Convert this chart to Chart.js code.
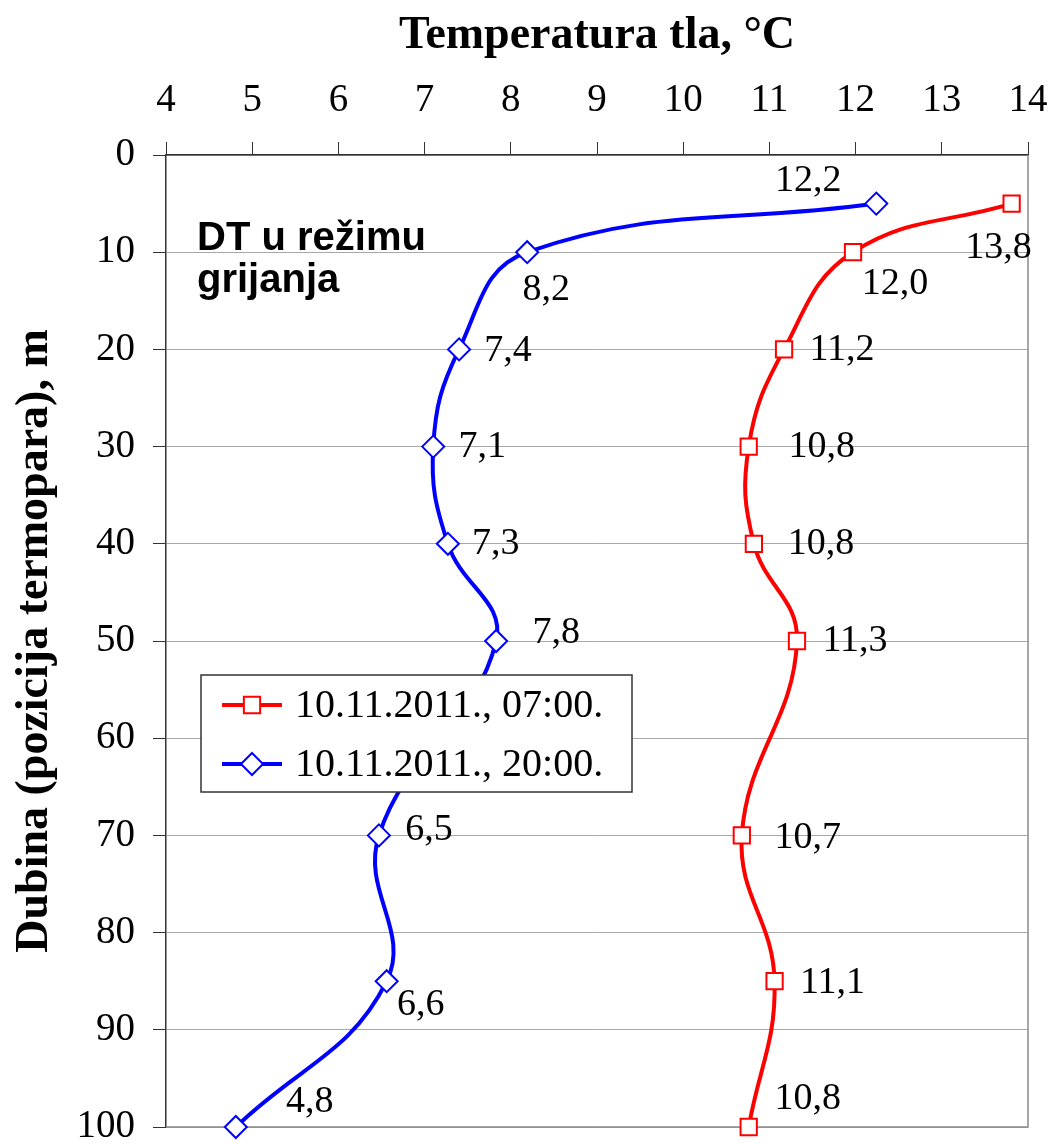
<!DOCTYPE html>
<html>
<head>
<meta charset="utf-8">
<script src="https://cdn.jsdelivr.net/npm/chart.js@4.4.0/dist/chart.umd.min.js"></script>
<style>
  html, body { margin: 0; padding: 0; background: #fff; }
  #wrap { position: relative; width: 1054px; height: 1143px; }
</style>
</head>
<body>
<div id="wrap"><canvas id="tempChart"></canvas></div>
<script>
// depth of the thermocouples, m
const depths = [5, 10, 20, 30, 40, 50, 70, 85, 100];
// ground temperature, °C
const temps0700 = [13.81, 11.97, 11.17, 10.76, 10.82, 11.32, 10.68, 11.06, 10.76];
const temps2000 = [12.24, 8.19, 7.40, 7.10, 7.27, 7.83, 6.47, 6.56, 4.81];
const seriesNames = ['10.11.2011., 07:00.', '10.11.2011., 20:00.'];
const tempTicks = [4, 5, 6, 7, 8, 9, 10, 11, 12, 13, 14];
const depthTicks = [0, 10, 20, 30, 40, 50, 60, 70, 80, 90, 100];

const serif = "'Liberation Serif', 'Times New Roman', serif";

const toPoints = (temps) => temps.map((t, i) => ({ x: t, y: depths[i] }));

// value labels, drawn next to each marker
const valueLabels = {
  id: 'valueLabels',
  afterDatasetsDraw(chart) {
    const ctx = chart.ctx;
    ctx.save();
    ctx.font = '38px ' + serif;
    ctx.fillStyle = '#000';
    ctx.textAlign = 'center';
    ctx.textBaseline = 'middle';
    chart.data.datasets.forEach((ds, i) => {
      const meta = chart.getDatasetMeta(i);
      meta.data.forEach((pt, j) => {
        const off = ds.labelOffsets[j];
        const txt = ds.data[j].x.toFixed(1).replace('.', ',');
        ctx.fillText(txt, pt.x + off[0], pt.y + off[1]);
      });
    });
    ctx.restore();
  }
};

// grey frame on the right and bottom of the plot area
const plotFrame = {
  id: 'plotFrame',
  beforeDatasetsDraw(chart) {
    const { ctx, chartArea: a } = chart;
    ctx.save();
    ctx.strokeStyle = '#8a8a8a';
    ctx.lineWidth = 1.5;
    ctx.beginPath();
    ctx.moveTo(a.right, a.top);
    ctx.lineTo(a.right, a.bottom);
    ctx.lineTo(a.left, a.bottom);
    ctx.stroke();
    ctx.restore();
  }
};

// legend box inside the plot + the note text
const boxLegend = {
  id: 'boxLegend',
  afterDraw(chart) {
    const { ctx, chartArea: a } = chart;
    ctx.save();
    ctx.font = 'bold 40px "Liberation Sans", Arial, sans-serif';
    ctx.fillStyle = '#000';
    ctx.textAlign = 'left';
    ctx.textBaseline = 'alphabetic';
    ctx.fillText('DT u režimu', a.left + 31, a.top + 95);
    ctx.fillText('grijanja', a.left + 31, a.top + 137);

    const x = a.left + 35, y = a.top + 520, w = 431, h = 117;
    ctx.fillStyle = '#fff';
    ctx.fillRect(x, y, w, h);
    ctx.strokeStyle = '#333';
    ctx.lineWidth = 1.5;
    ctx.strokeRect(x, y, w, h);
    chart.data.datasets.forEach((ds, i) => {
      const cy = y + 30 + i * 59;
      ctx.strokeStyle = ds.borderColor;
      ctx.lineWidth = 4;
      ctx.beginPath();
      ctx.moveTo(x + 21, cy);
      ctx.lineTo(x + 81, cy);
      ctx.stroke();
      ctx.fillStyle = '#fff';
      ctx.lineWidth = ds.pointBorderWidth;
      Chart.helpers.drawPoint(ctx, {
        pointStyle: ds.pointStyle, radius: ds.pointRadius,
        borderWidth: ds.pointBorderWidth, rotation: 0
      }, x + 51, cy);
      ctx.fillStyle = '#000';
      ctx.font = '40px ' + serif;
      ctx.textBaseline = 'middle';
      ctx.fillText(ds.label, x + 94, cy + 1);
    });
    ctx.restore();
  }
};

new Chart(document.getElementById('tempChart'), {
  type: 'scatter',
  data: {
    datasets: [
      {
        label: seriesNames[0],
        data: toPoints(temps0700),
        borderColor: '#ff0000',
        backgroundColor: '#ffffff',
        borderWidth: 4,
        pointStyle: 'rect',
        pointRadius: 11.5,
        pointBorderWidth: 2,
        pointBackgroundColor: '#ffffff',
        pointBorderColor: '#ff0000',
        labelOffsets: [[-13, 44], [42, 32], [58, 1], [73, 0], [67, 0], [58, 0], [66, 3], [58, 2], [59, -28]]
      },
      {
        label: seriesNames[1],
        data: toPoints(temps2000),
        borderColor: '#0000ff',
        backgroundColor: '#ffffff',
        borderWidth: 4,
        pointStyle: 'rectRot',
        pointRadius: 11,
        pointBorderWidth: 2,
        pointBackgroundColor: '#ffffff',
        pointBorderColor: '#0000ff',
        labelOffsets: [[-68, -23], [19, 38], [49, 2], [49, 0], [48, 0], [60, -8], [50, -5], [34, 24], [74, -25]]
      }
    ]
  },
  options: {
    responsive: true,
    maintainAspectRatio: false,
    animation: false,
    showLine: true,
    clip: false,
    elements: {
      line: { tension: 0.42, fill: false }
    },
    layout: { padding: { left: 0, top: 0, right: 26, bottom: 16 } },
    plugins: {
      legend: { display: false },
      tooltip: { enabled: false }
    },
    scales: {
      x: {
        type: 'linear',
        position: 'top',
        min: 4,
        max: 14,
        afterBuildTicks: (s) => { s.ticks = tempTicks.map(v => ({ value: v })); },
        afterFit: (s) => { s.height = 155; s.paddingLeft = 0; s.paddingRight = 0; },
        ticks: { color: '#000', font: { family: serif, size: 39 }, padding: 18 },
        grid: { drawOnChartArea: false, drawTicks: true, tickLength: 13, tickColor: '#333' },
        border: { color: '#333', width: 1.5 },
        title: {
          display: true,
          text: 'Temperatura tla, °C',
          color: '#000',
          font: { family: serif, size: 46, weight: 'bold' },
          padding: { top: 9, bottom: 0 }
        }
      },
      y: {
        type: 'linear',
        reverse: true,
        min: 0,
        max: 100,
        afterBuildTicks: (s) => { s.ticks = depthTicks.map(v => ({ value: v })); },
        afterFit: (s) => { s.width = 166; s.paddingTop = 0; s.paddingBottom = 0; },
        ticks: { color: '#000', font: { family: serif, size: 39 }, padding: 18 },
        grid: { color: '#a8a8a8', lineWidth: 1, tickLength: 13, tickColor: '#333' },
        border: { color: '#333', width: 1.5 },
        title: {
          display: true,
          text: 'Dubina (pozicija termopara), m',
          color: '#000',
          font: { family: serif, size: 46, weight: 'bold' },
          padding: { top: 8, bottom: 0 }
        }
      }
    }
  },
  plugins: [plotFrame, valueLabels, boxLegend]
});
</script>
</body>
</html>
